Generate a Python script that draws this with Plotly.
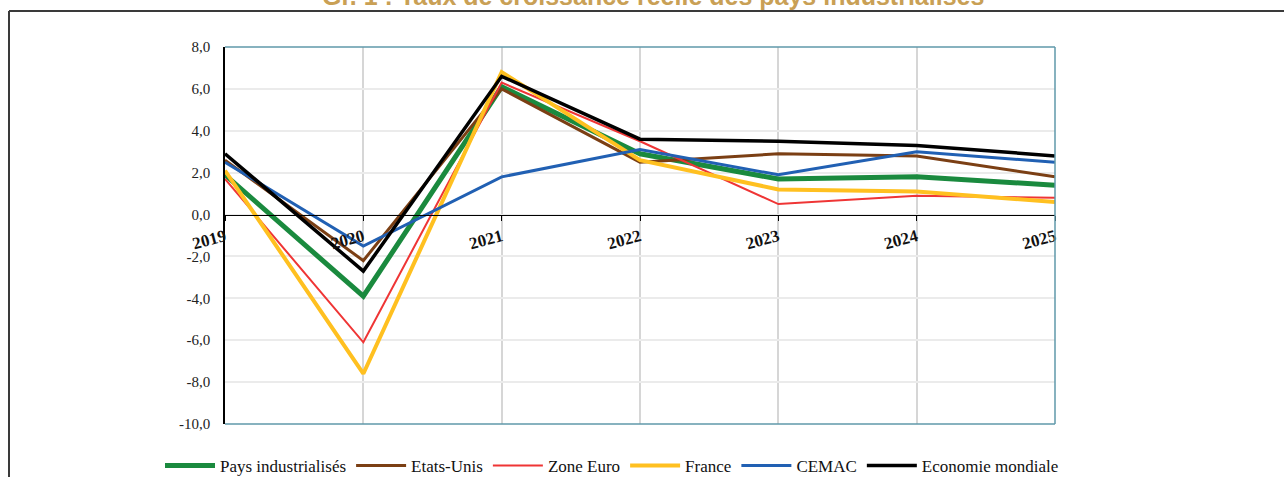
import plotly.graph_objects as go

years = [2019, 2020, 2021, 2022, 2023, 2024, 2025]
year_labels = ["2019", "2020", "2021", "2022", "2023", "2024", "2025"]
y_ticks = [8, 6, 4, 2, 0, -2, -4, -6, -8, -10]
y_tick_labels = ["8,0", "6,0", "4,0", "2,0", "0,0", "-2,0", "-4,0", "-6,0", "-8,0", "-10,0"]

pays_industrialises = [1.9, -3.9, 6.1, 2.9, 1.7, 1.8, 1.4]
etats_unis = [2.6, -2.2, 6.0, 2.5, 2.9, 2.8, 1.8]
zone_euro = [1.7, -6.1, 6.3, 3.5, 0.5, 0.9, 0.8]
france = [2.1, -7.6, 6.8, 2.6, 1.2, 1.1, 0.6]
cemac = [2.5, -1.5, 1.8, 3.1, 1.9, 3.0, 2.5]
economie_mondiale = [2.9, -2.7, 6.6, 3.6, 3.5, 3.3, 2.8]

series = [
    ("Pays industrialisés", pays_industrialises, "#1a8a3e", 5),
    ("Etats-Unis", etats_unis, "#7b3f14", 3),
    ("Zone Euro", zone_euro, "#ef3535", 2),
    ("France", france, "#ffc020", 4),
    ("CEMAC", cemac, "#2160b3", 3),
    ("Economie mondiale", economie_mondiale, "#000000", 3.5),
]

fig = go.Figure()
for name, vals, color, w in series:
    fig.add_trace(go.Scatter(x=years, y=vals, mode="lines", name=name,
                             line=dict(color=color, width=w)))

L, R, T, B = 225, 229, 47, 53
W, H = 1284, 477
pw, ph = W - L - R, H - T - B

def px(x):
    return (x - L) / pw

def py(y):
    return (H - B - y) / ph

shapes = [
    dict(type="line", xref="paper", yref="paper", x0=0, x1=1, y0=1, y1=1,
         line=dict(color="#5f98aa", width=1.5), layer="above"),
    dict(type="line", xref="paper", yref="paper", x0=1, x1=1, y0=0, y1=1,
         line=dict(color="#5f98aa", width=1.5), layer="above"),
    dict(type="line", xref="paper", yref="paper", x0=0, x1=1, y0=0, y1=0,
         line=dict(color="#5f98aa", width=1.5), layer="above"),
    dict(type="line", xref="paper", yref="paper", x0=px(9), x1=px(1284), y0=py(11), y1=py(11),
         line=dict(color="#3a3a3a", width=2)),
    dict(type="line", xref="paper", yref="paper", x0=px(9), x1=px(9), y0=py(11), y1=py(478),
         line=dict(color="#3a3a3a", width=2)),
]

fig.update_layout(
    width=W, height=H,
    margin=dict(l=L, r=R, t=T, b=B, autoexpand=False),
    plot_bgcolor="white", paper_bgcolor="white",
    shapes=shapes,
    showlegend=True,
    legend=dict(orientation="h", x=px(160), xanchor="left", y=py(448), yanchor="top",
                font=dict(family="Liberation Serif", size=17, color="#111"),
                itemwidth=50, tracegroupgap=0, bgcolor="rgba(0,0,0,0)"),
    annotations=[dict(text="Gr. 1 : Taux de croissance réelle des pays industrialisés",
                      xref="paper", yref="paper", x=px(653), y=py(12), xanchor="center",
                      yanchor="bottom", showarrow=False,
                      font=dict(family="Liberation Sans", size=25, color="#c9a055",
                                weight="bold"))],
    xaxis=dict(range=[2019, 2025], tickvals=years, ticktext=year_labels,
               anchor="free", position=10 / 18,
               showline=True, linecolor="black", linewidth=1,
               ticks="outside", ticklen=5, tickcolor="black",
               tickangle=-15,
               tickfont=dict(family="Liberation Serif", size=17, color="#111", weight="bold"),
               showgrid=True, gridcolor="#d6d6d6", gridwidth=2, zeroline=False),
    yaxis=dict(range=[-10, 8], tickvals=y_ticks, ticktext=y_tick_labels,
               showline=True, linecolor="black", linewidth=1.5,
               ticks="", ticklabelstandoff=10,
               tickfont=dict(family="Liberation Serif", size=15, color="#222"),
               showgrid=True, gridcolor="#ebebeb", gridwidth=2, zeroline=False),
)

fig.write_html("out.html", config={"displayModeBar": False},
               post_script="document.body.style.margin='0';")
